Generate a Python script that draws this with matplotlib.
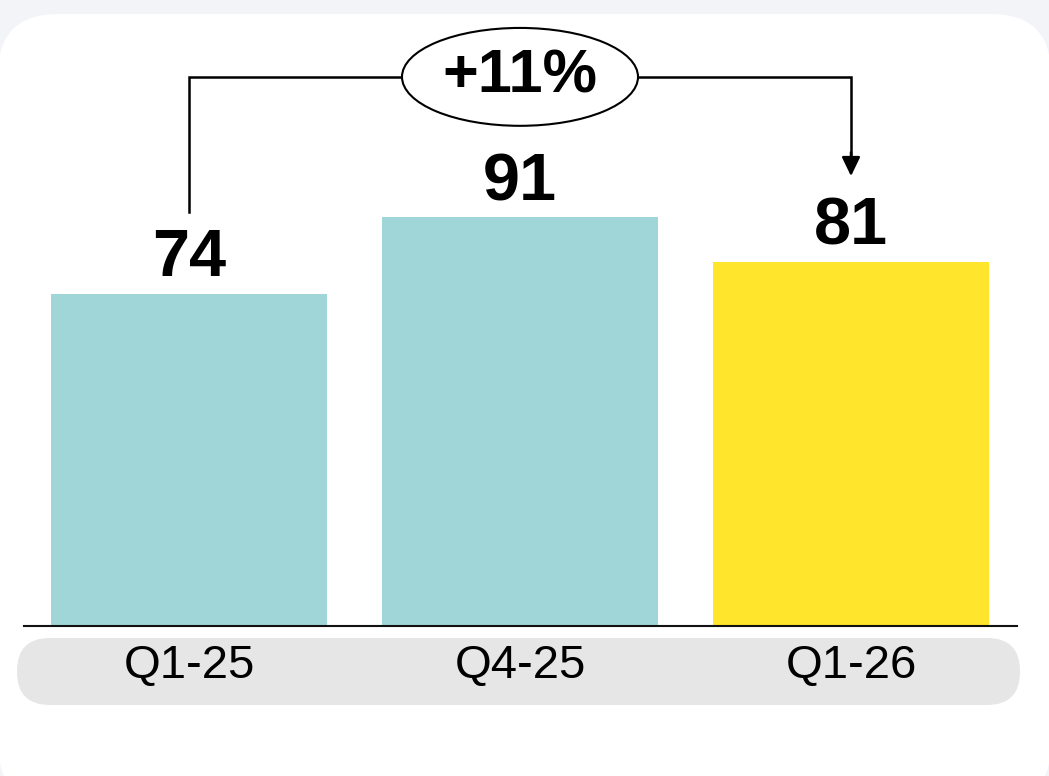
import matplotlib.pyplot as plt
from matplotlib.patches import FancyBboxPatch, Ellipse

plt.rcParams["font.family"] = ["Liberation Sans", "DejaVu Sans"]

quarters = ["Q1-25", "Q4-25", "Q1-26"]
values = [74, 91, 81]
bar_colors = ["#a0d6d7", "#a0d6d7", "#ffe52c"]
growth_label = "+11%"

W, H = 1049, 776
fig = plt.figure(figsize=(W / 100, H / 100), dpi=100)
fig.patch.set_facecolor("#f3f4f8")

# backdrop in pixel units: white card and the grey label strip
bg = fig.add_axes([0, 0, 1, 1])
bg.set_xlim(0, W)
bg.set_ylim(H, 0)
bg.axis("off")
bg.add_patch(FancyBboxPatch((-2, 14), W + 4, 790, boxstyle="round,pad=0,rounding_size=60",
                            fc="white", ec="none"))
bg.add_patch(FancyBboxPatch((17, 638), 1003, 67, boxstyle="round,pad=0,rounding_size=33",
                            fc="#e6e6e6", ec="none"))

# bar axes: baseline at y=626px, 4.49 px per unit
base_px = 626
ax = fig.add_axes([23.5 / W, (H - base_px) / H, 993 / W, base_px / H])
ax.patch.set_alpha(0)
ax.set_xlim(-0.5, 2.5)
ax.set_ylim(0, base_px / 4.49)
x = list(range(len(quarters)))
ax.bar(x, values, width=0.834, color=bar_colors, zorder=2)
for s in ["top", "left", "right"]:
    ax.spines[s].set_visible(False)
ax.spines["bottom"].set_linewidth(1.5)
ax.spines["bottom"].set_color("#111111")
ax.set_yticks([])
ax.set_xticks([])

for i, (q, v) in enumerate(zip(quarters, values)):
    ax.annotate(str(v), xy=(i, v), xytext=(0, 12.5), textcoords="offset points",
                ha="center", va="baseline", fontsize=48, fontweight="bold",
                annotation_clip=False)
    ax.annotate(q, xy=(i, 0), xytext=(0, -28.5), textcoords="offset points",
                ha="center", va="center", fontsize=34, annotation_clip=False)

# growth bracket from first to last quarter
y_top = values[0] + 48.3
ell_w, ell_h = 0.713, 21.8
ax.plot([0, 0, 1 - ell_w / 2], [values[0] + 18.3, y_top, y_top],
        color="black", lw=1.8, clip_on=False, solid_joinstyle="miter")
ax.plot([1 + ell_w / 2, 2, 2], [y_top, y_top, values[2] + 24], color="black", lw=1.8,
        clip_on=False, solid_joinstyle="miter")
ax.annotate("", xy=(2, values[2] + 19.2), xytext=(2, values[2] + 24.5),
            arrowprops=dict(arrowstyle="-|>,head_length=0.58,head_width=0.28",
                            mutation_scale=20, color="black", lw=1.8,
                            shrinkA=0, shrinkB=0),
            annotation_clip=False)
ax.add_patch(Ellipse((1, y_top), ell_w, ell_h, fc="white", ec="black", lw=1.5,
                     clip_on=False, zorder=3))
ax.text(1, y_top, growth_label, ha="center", va="center", fontsize=44,
        fontweight="bold", zorder=4)

fig.savefig("out.png", dpi=100, facecolor=fig.get_facecolor())
